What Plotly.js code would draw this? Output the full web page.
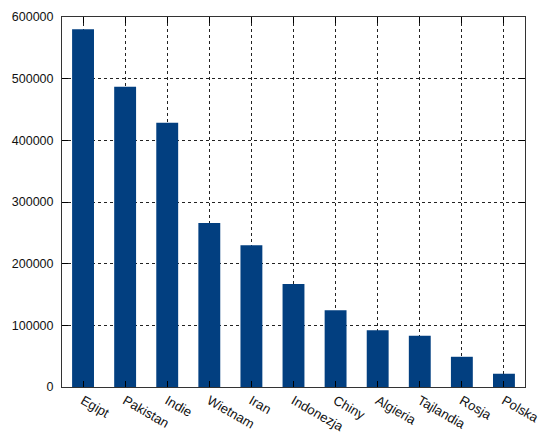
<!DOCTYPE html>
<html>
<head>
<meta charset="utf-8">
<script src="https://cdn.plot.ly/plotly-3.0.1.min.js"></script>
<style>html,body{margin:0;padding:0;background:#fff;}#chart{width:560px;height:441px;}</style>
</head>
<body>
<div id="chart"></div>
<script>
const countries = ["Egipt", "Pakistan", "Indie", "Wietnam", "Iran", "Indonezja", "Chiny", "Algieria", "Tajlandia", "Rosja", "Polska"];
const values = [580000, 487000, 428500, 266000, 230000, 167000, 124500, 92000, 83000, 49000, 21500];
const yTicks = [0, 100000, 200000, 300000, 400000, 500000, 600000];

const trace = {
  type: "bar",
  x: countries,
  y: values,
  width: 0.52,
  marker: {color: "#023f80", line: {width: 0}},
  hoverinfo: "x+y"
};

const layout = {
  width: 560, height: 441,
  margin: {l: 62, r: 35, t: 17, b: 54},
  paper_bgcolor: "#fff", plot_bgcolor: "#fff",
  showlegend: false,
  font: {family: "Liberation Sans, Arial, sans-serif", size: 12.5, color: "#111"},
  xaxis: {
    type: "category",
    range: [-0.5, 10.5],
    tickangle: 30,
    tickfont: {size: 13.2},
    ticks: "inside", ticklen: 6, tickcolor: "#000",
    showgrid: true, gridcolor: "#222", griddash: "dot", gridwidth: 1,
    showline: true, linecolor: "#333", linewidth: 1, mirror: "ticks",
    zeroline: false
  },
  yaxis: {
    range: [0, 600000],
    tickvals: yTicks,
    ticktext: yTicks.map(String),
    tickfont: {size: 12.5},
    ticks: "inside", ticklen: 6, tickcolor: "#000",
    showgrid: true, gridcolor: "#222", griddash: "dot", gridwidth: 1,
    showline: true, linecolor: "#333", linewidth: 1, mirror: "ticks",
    zeroline: false,
    ticklabelstandoff: 5
  },
  bargap: 0.48
};

Plotly.newPlot("chart", [trace], layout, {displayModeBar: false, staticPlot: true});
</script>
</body>
</html>
